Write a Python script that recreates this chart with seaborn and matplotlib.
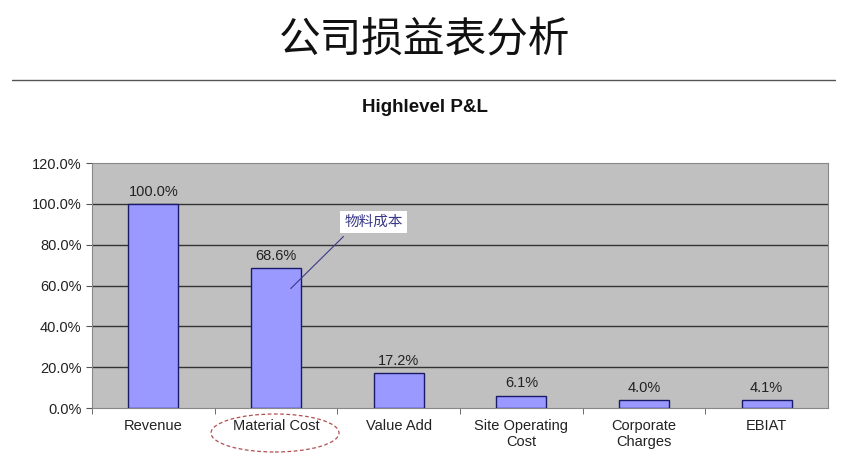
import matplotlib
matplotlib.use("Agg")
import matplotlib.pyplot as plt
import seaborn as sns
import pandas as pd
import numpy as np
from matplotlib.patches import Ellipse
from matplotlib.lines import Line2D

categories = ["Revenue", "Material Cost", "Value Add", "Site Operating\nCost", "Corporate\nCharges", "EBIAT"]
values = [100.0, 68.6, 17.2, 6.1, 4.0, 4.1]
y_ticks = [0, 20, 40, 60, 80, 100, 120]
title_main = "公司损益表分析"
title_chart = "Highlevel P&L"
callout_text = "物料成本"

sns.set_style("white")
plt.rcParams['font.family'] = ['Liberation Sans', 'Noto Sans CJK SC', 'DejaVu Sans']

fig = plt.figure(figsize=(8.5, 4.74), dpi=100)
ax = fig.add_axes([92/850, 1-408/474, (828-92)/850, (408-163)/474])

df = pd.DataFrame({"cat": categories, "val": values})
sns.barplot(data=df, x="cat", y="val", ax=ax, color="#9999FF", width=0.41,
            edgecolor="#1a1a66", linewidth=1.0, saturation=1, zorder=3)

ax.set_facecolor("#C0C0C0")
ax.set_xlim(-0.5, len(categories) - 0.5)
ax.set_ylim(0, 120)
ax.set_yticks(y_ticks)
ax.set_yticklabels([f"{v:.1f}%" for v in y_ticks], fontsize=10.5, color="#222222")
ax.set_xticks(np.arange(len(categories)) - 0.5, minor=True)
ax.set_xlabel("")
ax.set_ylabel("")
ax.tick_params(axis='x', which='major', labelsize=10.5, colors="#222222", length=0, pad=8)
ax.tick_params(axis='x', which='minor', length=4, color="#555555", bottom=True)
ax.tick_params(axis='y', length=4, color="#555555", left=True)
for y in y_ticks[1:-1]:
    ax.axhline(y, color="#333333", linewidth=1.0, zorder=1)
for s in ax.spines.values():
    s.set_color("#888888")
    s.set_linewidth(0.8)

for i, v in enumerate(values):
    ax.text(i, v + 2.5, f"{v:.1f}%", ha="center", va="bottom", fontsize=10.5, color="#222222", zorder=4)

# callout
ax.plot([1.12, 1.55], [58.5, 84], color="#3a3a8a", linewidth=0.8, zorder=5)
ax.text(1.56, 91, callout_text, ha="left", va="center", fontsize=10.5, color="#3a3a8a",
        family=['Noto Sans CJK SC', 'DejaVu Sans'],
        bbox=dict(facecolor="white", edgecolor="none", pad=3), zorder=6)

# titles
fig.text(0.5, 1-40/474, title_main, ha="center", va="center", fontsize=30,
         family=['Noto Sans CJK SC', 'DejaVu Sans'], color="#111111")
fig.add_artist(Line2D([12/850, 835/850], [1-80/474, 1-80/474], color="#555555", linewidth=1.0))
fig.text(0.5, 1-108/474, title_chart, ha="center", va="center", fontsize=13.5, fontweight="bold", color="#111111")

# dashed ellipse around Material Cost label
ell = Ellipse((275/850, 1-433/474), 128/850, 38/474, transform=fig.transFigure,
              fill=False, edgecolor="#b05050", linestyle=(0, (3, 2)), linewidth=0.9)
fig.add_artist(ell)

fig.savefig("out.png", dpi=100)
